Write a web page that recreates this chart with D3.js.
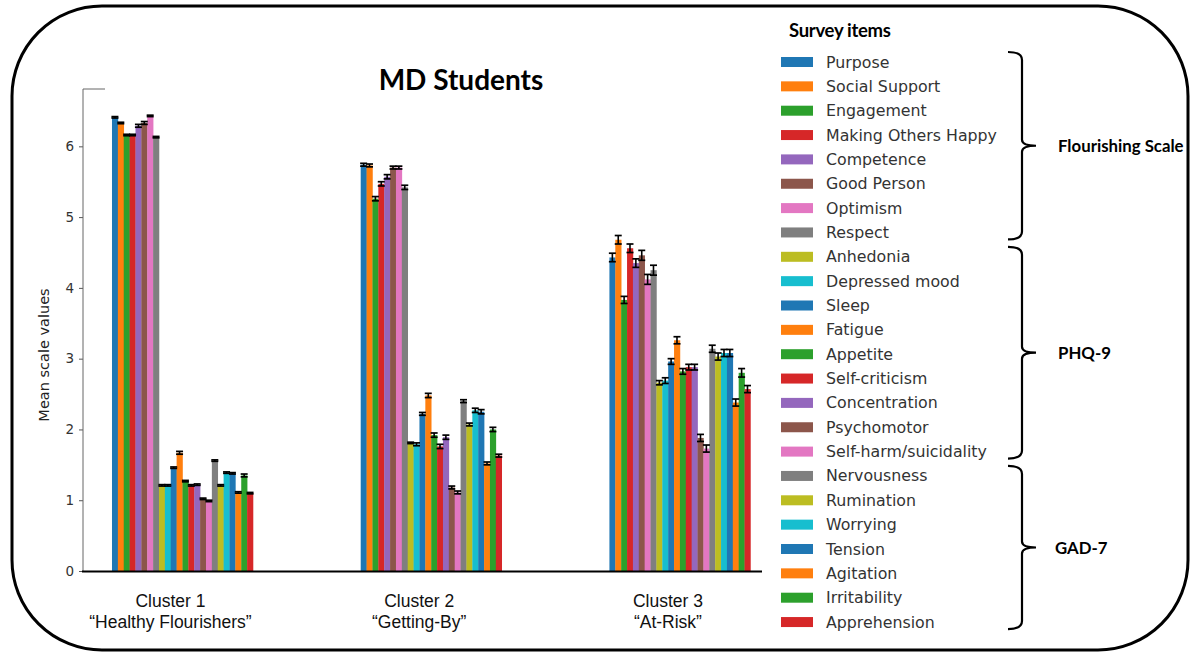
<!DOCTYPE html>
<html><head><meta charset="utf-8">
<script src="https://cdn.jsdelivr.net/npm/d3@7"></script>
<style>body{margin:0;background:#fff}svg{display:block}</style>
</head><body>
<svg id="c" width="1191" height="655"></svg>
<script>
const clusters = ["Cluster 1", "Cluster 2", "Cluster 3"];
const clusterNames = ["\u201cHealthy Flourishers\u201d", "\u201cGetting-By\u201d", "\u201cAt-Risk\u201d"];
const items = ["Purpose","Social Support","Engagement","Making Others Happy","Competence","Good Person","Optimism","Respect",
  "Anhedonia","Depressed mood","Sleep","Fatigue","Appetite","Self-criticism","Concentration","Psychomotor","Self-harm/suicidality",
  "Nervousness","Rumination","Worrying","Tension","Agitation","Irritability","Apprehension"];
const cluster1 = [6.41,6.33,6.16,6.16,6.29,6.33,6.43,6.13, 1.21,1.21,1.46,1.67,1.27,1.21,1.22,1.02,0.99, 1.56,1.21,1.39,1.38,1.11,1.35,1.10];
const cluster2 = [5.74,5.73,5.26,5.47,5.57,5.70,5.70,5.42, 1.81,1.79,2.22,2.48,1.92,1.76,1.89,1.18,1.11, 2.40,2.07,2.27,2.25,1.52,2.00,1.63];
const cluster3 = [4.43,4.68,3.83,4.56,4.35,4.46,4.12,4.25, 2.66,2.69,2.96,3.26,2.82,2.88,2.88,1.88,1.73, 3.14,3.03,3.08,3.08,2.38,2.80,2.57];
const err1 = [0.01,0.01,0.01,0.01,0.02,0.02,0.01,0.01, 0.01,0.01,0.01,0.02,0.01,0.01,0.01,0.01,0.01, 0.01,0.01,0.01,0.01,0.01,0.02,0.01];
const err2 = [0.02,0.02,0.03,0.03,0.03,0.02,0.02,0.03, 0.01,0.02,0.02,0.03,0.03,0.03,0.03,0.02,0.02, 0.02,0.02,0.03,0.03,0.02,0.03,0.02];
const err3 = [0.06,0.06,0.05,0.06,0.06,0.07,0.07,0.07, 0.03,0.04,0.04,0.05,0.04,0.04,0.04,0.05,0.05, 0.05,0.05,0.05,0.05,0.05,0.06,0.05];
const yTicks = [0,1,2,3,4,5,6];
const scaleNames = ["Flourishing Scale","PHQ-9","GAD-7"];
const scaleFirst = [0, 8, 17];
const scaleLast = [7, 16, 23];

const values = [cluster1, cluster2, cluster3];
const errs = [err1, err2, err3];
const svg = d3.select("#c");
const color = i => d3.schemeCategory10[i % 10];

// frame
svg.append("rect").attr("x",12).attr("y",6).attr("width",1176).attr("height",644)
  .attr("rx",90).attr("ry",90).attr("fill","none").attr("stroke","#000").attr("stroke-width",3);

const y = d3.scaleLinear().domain([0, 6.81]).range([571, 89]);
const xg = d3.scaleLinear().domain([-0.4, 2.33]).range([83, 762]);
const xi = d3.scaleBand().domain(items).range([-70.5, 70.5]).padding(0);
const bw = xi.bandwidth();

// bars
const g = svg.append("g");
clusters.forEach((c, ci) => {
  const cg = g.append("g").attr("transform", `translate(${xg(ci)},0)`);
  cg.selectAll("rect").data(items).join("rect")
    .attr("x", d => xi(d)).attr("width", bw + 0.3)
    .attr("y", (d,i) => y(values[ci][i])).attr("height", (d,i) => y(0) - y(values[ci][i]))
    .attr("fill", (d,i) => color(i));
  const eb = cg.selectAll("g.eb").data(items).join("g").attr("class","eb");
  eb.append("line").attr("x1", d => xi(d)+bw/2).attr("x2", d => xi(d)+bw/2)
    .attr("y1",(d,i)=>y(values[ci][i]-errs[ci][i])).attr("y2",(d,i)=>y(values[ci][i]+errs[ci][i]))
    .attr("stroke","#000").attr("stroke-width",1.6);
  [-1,1].forEach(s => {
    eb.append("line").attr("x1", d => xi(d)+bw/2-3.5).attr("x2", d => xi(d)+bw/2+3.5)
      .attr("y1",(d,i)=>y(values[ci][i]+s*errs[ci][i])).attr("y2",(d,i)=>y(values[ci][i]+s*errs[ci][i]))
      .attr("stroke","#000").attr("stroke-width",1.7);
  });
});

// axes
const ya = svg.append("g").attr("transform","translate(83,0)")
  .call(d3.axisLeft(y).tickValues(yTicks).tickSize(4).tickPadding(5).tickFormat(d3.format("d")));
ya.select(".domain").remove();
ya.selectAll(".tick line").attr("stroke","#555");
ya.selectAll(".tick text").attr("font-family","DejaVu Sans").attr("font-size",13.5).attr("fill","#333");
svg.append("line").attr("x1",83).attr("x2",83).attr("y1",y(6.81)).attr("y2",y(0)).attr("stroke","#666").attr("stroke-width",1);
svg.append("line").attr("x1",83).attr("x2",105).attr("y1",y(6.81)).attr("y2",y(6.81)).attr("stroke","#666").attr("stroke-width",1);
svg.append("line").attr("x1",82).attr("x2",762).attr("y1",y(0)+0.5).attr("y2",y(0)+0.5).attr("stroke","#000").attr("stroke-width",2);

// cluster labels
clusters.forEach((c, ci) => {
  const cx = xg(ci) - 12;
  const t = svg.append("text").attr("text-anchor","middle")
    .attr("font-family","Liberation Sans, Arial").attr("font-size",17.5).attr("fill","#111");
  t.append("tspan").attr("x", cx).attr("y", 607).text(c);
  t.append("tspan").attr("x", cx).attr("y", 628).text(clusterNames[ci]);
});

svg.append("text").attr("transform","translate(49,355) rotate(-90)").attr("text-anchor","middle")
  .attr("font-family","DejaVu Sans").attr("font-size",14.5).attr("fill","#222").text("Mean scale values");

svg.append("text").attr("x",461).attr("y",90).attr("text-anchor","middle")
  .attr("font-family","Lato").attr("font-weight","bold").attr("font-size",28).attr("fill","#000").text("MD Students");

// legend
const ly = i => 62 + i * 24.35;
svg.append("text").attr("x",789).attr("y",37).attr("font-family","Lato").attr("font-weight","bold")
  .attr("font-size",18.5).attr("letter-spacing","-0.3").attr("fill","#000").text("Survey items");
const lg = svg.append("g").selectAll("g").data(items).join("g");
lg.append("rect").attr("x",781).attr("y",(d,i)=>ly(i)-5).attr("width",32).attr("height",10).attr("fill",(d,i)=>color(i));
lg.append("text").attr("x",826).attr("y",(d,i)=>ly(i)+5.5).attr("font-family","DejaVu Sans").attr("font-size",15.8)
  .attr("fill","#333").text(d=>d);

// braces
scaleNames.forEach((n, k) => {
  const t = ly(scaleFirst[k]) - 10, b = ly(scaleLast[k]) + 7, m = (t + b) / 2;
  const x0 = 1008, x1 = 1022, xt = 1036;
  const p = `M${x0},${t} Q${x1},${t} ${x1},${t+8} L${x1},${m-6} Q${x1},${m} ${xt},${m} Q${x1},${m} ${x1},${m+6} L${x1},${b-8} Q${x1},${b} ${x0},${b}`;
  svg.append("path").attr("d",p).attr("fill","none").attr("stroke","#000").attr("stroke-width",2.2);
  svg.append("text").attr("x", k===2?1055:1058).attr("y", m+6).attr("font-family","Lato").attr("font-weight","bold")
    .attr("font-size",16.8).attr("fill","#000").text(n);
});
</script>
</body></html>
